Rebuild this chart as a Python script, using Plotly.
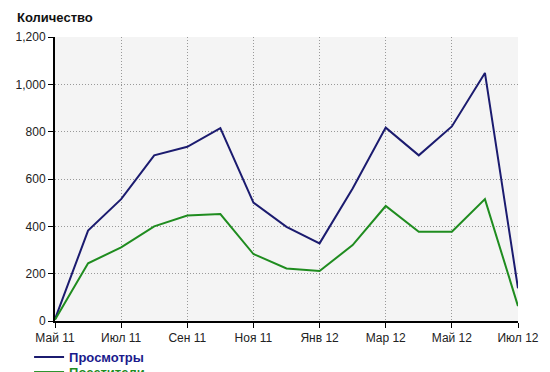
import plotly.graph_objects as go

months = ["Май 11", "Июн 11", "Июл 11", "Авг 11", "Сен 11", "Окт 11", "Ноя 11", "Дек 11",
          "Янв 12", "Фев 12", "Мар 12", "Апр 12", "Май 12", "Июн 12", "Июл 12"]
views = [8, 382, 515, 700, 736, 815, 500, 398, 328, 560, 817, 700, 822, 1048, 138]
visitors = [5, 244, 311, 400, 446, 452, 283, 222, 211, 321, 486, 377, 377, 515, 63]
tick_labels = ["Май 11", "Июл 11", "Сен 11", "Ноя 11", "Янв 12", "Мар 12", "Май 12", "Июл 12"]
y_ticks = [0, 200, 400, 600, 800, 1000, 1200]

blue = "#1b1b6f"
green = "#1f8c1f"
font_family = "Liberation Sans, Arial, sans-serif"

fig = go.Figure()
fig.add_trace(go.Scatter(x=months, y=views, mode="lines", name="<b>Просмотры</b>",
                         line=dict(color=blue, width=2), legend="legend"))
fig.add_trace(go.Scatter(x=months, y=visitors, mode="lines", name="<b>Посетители</b>",
                         line=dict(color=green, width=2), legend="legend2"))

leg_common = dict(x=-0.056, xanchor="left", yanchor="middle",
                  bgcolor="rgba(0,0,0,0)", borderwidth=0)

fig.update_layout(
    width=550, height=372,
    margin=dict(l=55, r=32, t=37, b=51, autoexpand=False),
    paper_bgcolor="white",
    plot_bgcolor="#f4f4f4",
    font=dict(family=font_family, size=12, color="#222"),
    showlegend=True,
    legend=dict(y=-0.127, font=dict(size=13, color="#1a1a8c", family=font_family), **leg_common),
    legend2=dict(y=-0.18, font=dict(size=13, color=green, family=font_family), **leg_common),
    annotations=[dict(text="<b>Количество</b>", xref="paper", yref="paper",
                      x=(15 - 55) / 463, y=1 + 19 / 284, xanchor="left", yanchor="middle",
                      showarrow=False, font=dict(size=13, color="#111"))],
)

fig.update_xaxes(
    type="category", categoryorder="array", categoryarray=months,
    range=[0, 14],
    tickvals=tick_labels, ticktext=tick_labels,
    showline=True, linecolor="black", linewidth=2,
    ticks="outside", ticklen=5, tickcolor="black", tickwidth=1,
    showgrid=True, gridcolor="#999999", griddash="1px,2px", gridwidth=1,
    zeroline=False,
)
fig.update_yaxes(
    range=[0, 1200], tickvals=y_ticks, tickformat=",d",
    showline=True, linecolor="black", linewidth=2,
    ticks="outside", ticklen=5, tickcolor="black", tickwidth=1,
    showgrid=True, gridcolor="#999999", griddash="1px,2px", gridwidth=1,
    zeroline=False,
)

fig.write_html("out.html")
